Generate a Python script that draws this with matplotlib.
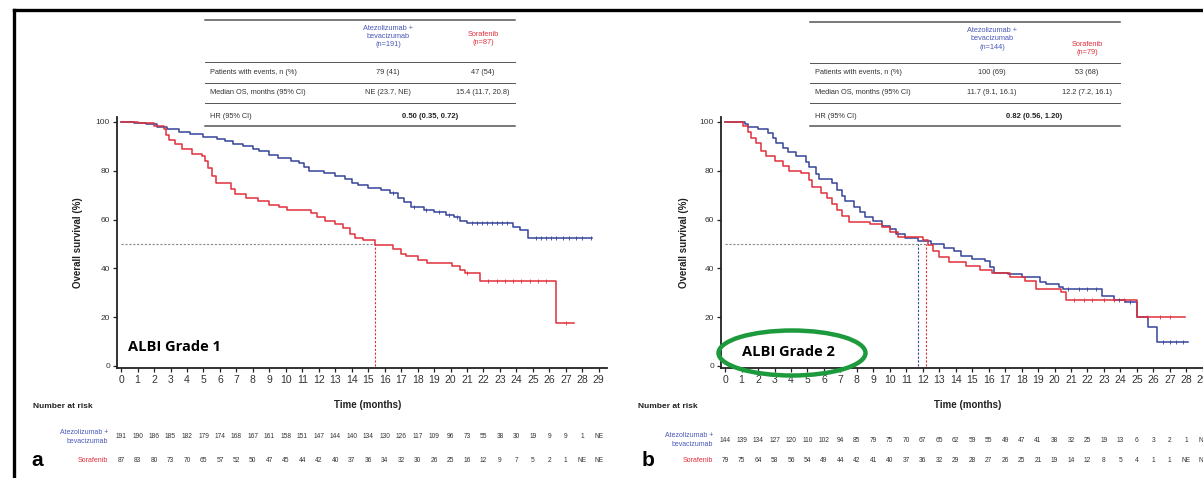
import numpy as np
import matplotlib
matplotlib.use("Agg")
from matplotlib import pyplot as plt
from matplotlib.patches import Ellipse
from matplotlib.lines import Line2D

plt.rcParams['font.family'] = ['Liberation Sans', 'DejaVu Sans']

# ---- data: Kaplan-Meier step points (time in months, survival in %) ----
a_atezo_t = [0, 0.8, 1.5, 2.2, 2.8, 3.5, 4.2, 5.0, 5.8, 6.3, 6.8, 7.4, 8.0, 8.4, 9.0, 9.5,
             10.3, 10.8, 11.1, 11.4, 12.3, 13.0, 13.6, 14.0, 14.4, 15.0, 15.8, 16.3, 16.8,
             17.2, 17.6, 18.4, 19.0, 19.7, 20.2, 20.6, 21.0, 23.8, 24.2, 24.7, 28.6]
a_atezo_s = [100, 99.5, 99, 98, 97, 96, 95, 94, 93, 92, 91, 90, 89, 88, 86.5, 85,
             84, 83, 81.5, 80, 79, 78, 76.5, 75, 74, 73, 72, 71, 69,
             67, 65, 64, 63, 62, 61, 59.5, 58.5, 57, 55.5, 52.5, 52.5]
a_sora_t = [0, 1.0, 2.0, 2.6, 2.75, 2.9, 3.3, 3.7, 4.3, 4.9, 5.1, 5.3, 5.5, 5.75, 6.7, 6.9,
            7.6, 8.3, 9.0, 9.6, 10.1, 11.5, 11.9, 12.4, 13.0, 13.5, 13.9, 14.2, 14.7, 15.4,
            16.5, 17.0, 17.3, 18.0, 18.6, 20.1, 20.6, 20.9, 21.8, 26.4, 27.5]
a_sora_s = [100, 99.5, 98.5, 97, 94.5, 92.5, 91, 89, 87, 86, 84, 81, 78, 75, 72.5, 70.5,
            69, 67.5, 66, 65, 64, 62.5, 61, 59.5, 58, 56.5, 54, 52.5, 51.5, 49.5,
            48, 46, 45, 43.5, 42, 41, 39.5, 38, 35, 17.5, 17.5]
a_atezo_cens = [16.5, 17.8, 18.5, 19.3, 19.9, 20.4, 21.3, 21.6, 21.9, 22.2, 22.5, 22.8, 23.1,
                23.4, 25.2, 25.5, 25.8, 26.1, 26.4, 26.8, 27.2, 27.6, 28.0, 28.5]
a_sora_cens = [21.0, 22.3, 22.8, 23.3, 23.8, 24.3, 24.8, 25.3, 25.8, 27.0]

b_atezo_t = [0, 1.2, 1.4, 2.0, 2.6, 2.9, 3.1, 3.5, 3.8, 4.3, 4.9, 5.1, 5.5, 5.7, 6.5, 6.8,
             7.1, 7.3, 7.8, 8.2, 8.5, 9.0, 9.5, 10.0, 10.4, 10.9, 11.7, 12.5, 13.3, 13.9,
             14.3, 15.0, 15.8, 16.1, 16.3, 17.2, 18.0, 19.1, 19.5, 20.3, 20.5, 22.9, 23.6,
             24.3, 25.0, 25.7, 26.2, 28.1]
b_atezo_s = [100, 99, 98, 97, 95.5, 93.5, 91.5, 89.5, 87.5, 86, 83.5, 81.5, 78.5, 76.5, 75, 72,
             69.5, 67.5, 65, 63, 61, 59.5, 57.5, 56, 54, 52.5, 51, 50, 48.5, 47,
             45, 44, 43, 40.5, 38, 37.5, 36.5, 34.5, 33.5, 32.5, 31.5, 28.5, 27,
             26, 20, 16, 10, 10]
b_sora_t = [0, 1.1, 1.4, 1.6, 1.9, 2.2, 2.5, 3.0, 3.5, 3.9, 4.6, 5.1, 5.3, 5.8, 6.2, 6.5,
            6.8, 7.1, 7.5, 8.8, 9.5, 10.0, 10.5, 12.0, 12.3, 12.6, 13.0, 13.6, 14.6, 15.5,
            16.2, 17.3, 18.2, 18.9, 20.4, 20.7, 25.0, 27.9]
b_sora_s = [100, 98.5, 96, 93.5, 91.5, 88, 86, 84, 82, 80, 79, 76, 73.5, 71, 69, 66.5,
            64, 61.5, 59, 58, 57, 55, 53, 51.5, 49.5, 47, 44.5, 42.5, 41, 39.5,
            38, 36.5, 35, 31.5, 30.5, 27, 20, 20]
b_atezo_cens = [20.8, 21.5, 22.0, 22.5, 23.9, 24.6, 26.6, 27.0, 27.4, 27.8]
b_sora_cens = [21.2, 21.8, 22.3, 23.0, 23.6, 24.2, 25.6, 26.4, 27.0]

months = list(range(30))
a_risk_atezo = ['191', '190', '186', '185', '182', '179', '174', '168', '167', '161', '158', '151',
                '147', '144', '140', '134', '130', '126', '117', '109', '96', '73', '55', '38',
                '30', '19', '9', '9', '1', 'NE']
a_risk_sora = ['87', '83', '80', '73', '70', '65', '57', '52', '50', '47', '45', '44', '42', '40',
               '37', '36', '34', '32', '30', '26', '25', '16', '12', '9', '7', '5', '2', '1',
               'NE', 'NE']
b_risk_atezo = ['144', '139', '134', '127', '120', '110', '102', '94', '85', '79', '75', '70', '67',
                '65', '62', '59', '55', '49', '47', '41', '38', '32', '25', '19', '13', '6', '3',
                '2', '1', 'NE']
b_risk_sora = ['79', '75', '64', '58', '56', '54', '49', '44', '42', '41', '40', '37', '36', '32',
               '29', '28', '27', '26', '25', '21', '19', '14', '12', '8', '5', '4', '1', '1',
               'NE', 'NE']

a_table = {'n': ('191', '87'), 'events': ('79 (41)', '47 (54)'),
           'median': ('NE (23.7, NE)', '15.4 (11.7, 20.8)'), 'hr': '0.50 (0.35, 0.72)'}
b_table = {'n': ('144', '79'), 'events': ('100 (69)', '53 (68)'),
           'median': ('11.7 (9.1, 16.1)', '12.2 (7.2, 16.1)'), 'hr': '0.82 (0.56, 1.20)'}
a_medians = (None, 15.4)
b_medians = (11.7, 12.2)

BLUE = '#34449a'
RED = '#e0303c'
HBLUE = '#4a58b8'
W, H = 1203, 478


def fx(px):
    return px / W


def fy(py):
    return 1 - py / H


def surv_at(ts, ss, t):
    idx = np.searchsorted(ts, t, side='right') - 1
    return np.array(ss)[idx]


fig = plt.figure(figsize=(W / 100, H / 100), dpi=100)

# outer frame (top and left)
fig.add_artist(Line2D([fx(14), fx(1203)], [fy(10), fy(10)], color='black', lw=2.4))
fig.add_artist(Line2D([fx(14), fx(14)], [fy(10), fy(478)], color='black', lw=2.4))


def panel(x0, atezo_t, atezo_s, sora_t, sora_s, atezo_c, sora_c, medians):
    ax = fig.add_axes([fx(x0), fy(368.4), fx(490), (368.4 - 117) / H])
    ax.step(atezo_t, atezo_s, where='post', color=BLUE, lw=1.1, zorder=3)
    ax.step(sora_t, sora_s, where='post', color=RED, lw=1.1, zorder=3)
    ax.plot(atezo_c, surv_at(atezo_t, atezo_s, atezo_c), ls='none', marker='|',
            ms=3, mew=0.6, color=BLUE, zorder=4)
    ax.plot(sora_c, surv_at(sora_t, sora_s, sora_c), ls='none', marker='|',
            ms=3, mew=0.6, color=RED, zorder=4)
    mx = max(m for m in medians if m is not None)
    ax.plot([0, mx], [50, 50], color='#888888', ls=(0, (2, 1.5)), lw=0.8)
    for m, c in zip(medians, (BLUE, RED)):
        if m is not None:
            ax.plot([m, m], [0, 50], color=c, ls=(0, (2, 1.5)), lw=0.8)
    ax.set_xlim(-0.25, 29.5)
    ax.set_ylim(-1, 102)
    ax.set_xticks(months)
    ax.set_yticks([0, 20, 40, 60, 80, 100])
    ax.tick_params(axis='both', length=3, width=0.9, color='#222222', labelcolor='#333333')
    ax.tick_params(axis='x', labelsize=7.5, pad=2)
    ax.tick_params(axis='y', labelsize=6, pad=2)
    for s in ('top', 'right'):
        ax.spines[s].set_visible(False)
    for s in ('left', 'bottom'):
        ax.spines[s].set_linewidth(1.3)
        ax.spines[s].set_color('#222222')
    return ax


def table(x0, x1, tab, ys, col1, col2):
    for y in (ys['top'], ys['hl'], ys['l1'], ys['l2'], ys['bot']):
        fig.add_artist(Line2D([fx(x0), fx(x1)], [fy(y), fy(y)], color='#555555',
                              lw=1.1 if y in (ys['top'], ys['bot']) else 0.7))
    for i, s in enumerate(['Atezolizumab +', 'bevacizumab', '(n=%s)' % tab['n'][0]]):
        fig.text(fx(col1), fy(ys['h1'] + i * 8.5), s, color=HBLUE, fontsize=5.3,
                 ha='center', va='center')
    for i, s in enumerate(['Sorafenib', '(n=%s)' % tab['n'][1]]):
        fig.text(fx(col2), fy(ys['h2'] + i * 9), s, color=RED, fontsize=5.3,
                 ha='center', va='center')
    rows = [('Patients with events, n (%)', tab['events'], ys['r1']),
            ('Median OS, months (95% CI)', tab['median'], ys['r2'])]
    for lab, vals, y in rows:
        fig.text(fx(x0 + 5), fy(y), lab, fontsize=5.3, color='#333333', va='center')
        fig.text(fx(col1), fy(y), vals[0], fontsize=5.3, color='#333333', ha='center', va='center')
        fig.text(fx(col2), fy(y), vals[1], fontsize=5.3, color='#333333', ha='center', va='center')
    fig.text(fx(x0 + 5), fy(ys['r3']), 'HR (95% CI)', fontsize=5.3, color='#333333', va='center')
    fig.text(fx((col1 + col2) / 2 - 5), fy(ys['r3']), tab['hr'], fontsize=5.5,
             color='#222222', fontweight='bold', ha='center', va='center')


def at_risk(ax, xl, yrow1, yrow2, r1, r2, letter_x, letter):
    fig.text(fx(xl - 75), fy(407), 'Number at risk', fontsize=6, fontweight='bold',
             color='#222222', va='center')
    fig.text(fx(xl), fy(yrow1 - 4.5), 'Atezolizumab +', fontsize=5, color=HBLUE,
             ha='right', va='center')
    fig.text(fx(xl), fy(yrow1 + 4.5), 'bevacizumab', fontsize=5, color=HBLUE,
             ha='right', va='center')
    fig.text(fx(xl), fy(yrow2), 'Sorafenib', fontsize=5, color=RED, ha='right', va='center')
    tr = ax.get_xaxis_transform()
    for m, v1, v2 in zip(months, r1, r2):
        xd = fig.transFigure.inverted().transform(tr.transform((m, 0)))[0]
        fig.text(xd, fy(yrow1), v1, fontsize=4.8, color='#333333', ha='center', va='center')
        fig.text(xd, fy(yrow2), v2, fontsize=4.8, color='#333333', ha='center', va='center')
    fig.text(fx(letter_x), fy(460), letter, fontsize=15, fontweight='bold', color='black',
             ha='center', va='center')


# ---- panel a ----
ax_a = panel(117, a_atezo_t, a_atezo_s, a_sora_t, a_sora_s, a_atezo_cens, a_sora_cens, a_medians)
fig.text(fx(78), fy(243), 'Overall survival (%)', rotation=90, fontsize=7, fontweight='bold',
         color='#222222', ha='center', va='center')
fig.text(fx(368), fy(405), 'Time (months)', fontsize=7, fontweight='bold', color='#222222',
         ha='center', va='center')
fig.text(fx(128), fy(347), 'ALBI Grade 1', fontsize=10.5, fontweight='bold',
         family=['Open Sans', 'DejaVu Sans'], color='black', va='center')
table(205, 515, a_table,
      dict(top=20, h1=28, h2=34, hl=62, r1=72, l1=83, r2=92, l2=103, r3=117, bot=126),
      388, 483)
at_risk(ax_a, 108, 437, 460, a_risk_atezo, a_risk_sora, 37, 'a')

# ---- panel b ----
ax_b = panel(721, b_atezo_t, b_atezo_s, b_sora_t, b_sora_s, b_atezo_cens, b_sora_cens, b_medians)
fig.text(fx(684), fy(243), 'Overall survival (%)', rotation=90, fontsize=7, fontweight='bold',
         color='#222222', ha='center', va='center')
fig.text(fx(968), fy(405), 'Time (months)', fontsize=7, fontweight='bold', color='#222222',
         ha='center', va='center')
fig.text(fx(742), fy(352), 'ALBI Grade 2', fontsize=10.5, fontweight='bold',
         family=['Open Sans', 'DejaVu Sans'], color='black', va='center')
fig.add_artist(Ellipse((fx(792), fy(353)), fx(147), 45 / H, fill=False,
                       edgecolor='#1c9a3c', lw=3.2))
table(810, 1120, b_table,
      dict(top=22, h1=30, h2=44, hl=63, r1=73, l1=83, r2=92, l2=103, r3=117, bot=126),
      992, 1087)
at_risk(ax_b, 713, 440, 460, b_risk_atezo, b_risk_sora, 648, 'b')

fig.savefig('out.png', dpi=100)
